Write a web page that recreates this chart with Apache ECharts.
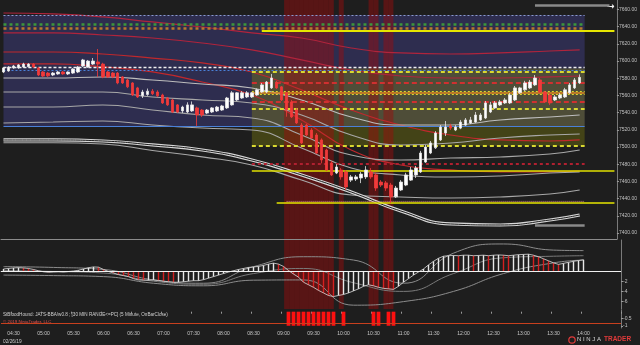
<!DOCTYPE html>
<html>
<head>
<meta charset="utf-8">
<script src="https://cdn.jsdelivr.net/npm/echarts@6.0.0/dist/echarts.min.js"></script>
<style>
html,body{margin:0;padding:0;background:#1e1e1e;overflow:hidden;}
#chart{width:640px;height:345px;}
</style>
</head>
<body>
<div id="chart"></div>
<script>
const FONT = 'Liberation Sans, Arial, sans-serif';

// ---- categories: 5-minute bars starting 04:20 ----
const times = [];
for (let i = 0; i < 124; i++) {
  const m = 260 + 5 * i;
  times.push(String(Math.floor(m / 60)).padStart(2, '0') + ':' + String(m % 60).padStart(2, '0'));
}

// ---- price candles [open, close, low, high] ----
const ohlc = [
[7587.25,7592,7586,7593],[7588.5,7593,7587.5,7594],[7592,7594.25,7591,7595.5],[7592,7595.5,7591,7596.5],
[7593,7596.5,7592,7598],[7593.25,7596.5,7592.5,7597.5],[7596.5,7593,7592,7597.5],[7592,7583.75,7582.5,7593],
[7587.25,7582.5,7581.5,7588.5],[7586,7582.75,7581.5,7587.25],[7583.75,7586,7582.5,7587.25],[7585,7587.25,7584,7588.5],
[7587.25,7585,7584,7588.5],[7585,7587.25,7583.75,7588],[7586,7590.75,7585,7591.75],[7587.25,7593,7586,7594.25],
[7594.25,7601.25,7593,7602.5],[7593,7600,7592,7601.25],[7596.5,7600,7595.5,7603.5],[7599,7596.5,7581.5,7614],
[7596.5,7581.5,7580,7598],[7587.25,7581.5,7580.25,7588.5],[7586,7581.5,7580,7587.25],[7586,7574.5,7573,7587.25],
[7581.5,7574.5,7573.25,7582.5],[7578,7570,7568.5,7579.25],[7574.5,7560.5,7559.25,7575.5],[7568.75,7558.25,7557,7570],
[7559.5,7564,7557,7566.5],[7561,7565,7559.5,7568],[7565,7562,7560.5,7567.5],[7564,7559.5,7558.25,7566],
[7560.5,7551.25,7550,7562],[7557,7549,7547.75,7558.25],[7554.75,7540.75,7539.5,7556],[7549,7540.75,7539.5,7550],
[7542,7546.5,7539.5,7548],[7540.75,7549,7539.5,7552],[7542,7549,7540.75,7553],[7545.5,7537.25,7524.5,7547],
[7543,7537.25,7535,7544.25],[7539.5,7543,7538.25,7544.25],[7540.75,7545.5,7539.5,7546.5],[7542,7546.5,7540.75,7547.75],
[7543,7547.75,7542,7549],[7545.5,7557,7544.25,7558.25],[7549,7563,7548,7565],[7554.75,7563,7553.5,7564],
[7557,7563,7556,7565],[7558.25,7563,7557,7565],[7558.25,7563,7557,7564],[7560.5,7566.5,7559.5,7568],
[7564,7572.25,7563,7574.5],[7564,7575.5,7562.75,7576.75],[7568.75,7580.25,7567.5,7585],[7575.5,7568.75,7567.5,7577],
[7570,7554.75,7553.5,7571],[7563,7543,7535.25,7564],[7552.5,7535,7533.75,7554.75],[7543,7528,7526.75,7545.5],
[7525.5,7504.75,7503.5,7528],[7525.5,7514,7512.75,7527],[7519.75,7510.5,7509.25,7522],[7514,7493,7491.75,7516.25],
[7508.25,7485,7481,7510],[7496.5,7473.25,7472,7498],[7481.5,7467.5,7466.25,7483.75],[7469.75,7476.75,7468.5,7480],
[7473.25,7465.25,7462,7475.5],[7471,7453.5,7450,7473.25],[7461.5,7465.25,7459.25,7467.5],[7462.75,7465.25,7460.5,7467.5],
[7464,7468.5,7458,7471],[7465.25,7473.25,7462.75,7477.75],[7471,7465.25,7463,7475.5],[7467.5,7452.25,7449,7470],
[7459.25,7455.75,7453.5,7461.5],[7458.25,7452.25,7449,7460.5],[7455.75,7442,7434.75,7458.25],[7442,7452.25,7440.75,7454.75],
[7450,7459.25,7448.75,7461.5],[7455.75,7467.5,7454.5,7470],[7461.5,7473.25,7460.5,7476.75],[7467.5,7475.5,7464,7478],
[7471,7493,7469.75,7495.5],[7482.5,7500,7481.5,7502.5],[7493,7504.75,7491.75,7507],[7499,7516.25,7497.75,7518.5],
[7508.25,7523.25,7507,7525.5],[7516.25,7523.25,7512.75,7530.25],[7524.5,7522,7519.75,7527],[7519.75,7523.25,7518.5,7525.5],
[7522,7529,7520.75,7531.5],[7525.5,7531.5,7524.5,7533.75],[7528,7531.5,7526.75,7535],[7529,7537.25,7528,7540.75],
[7531.5,7537.25,7530.25,7539.5],[7533.75,7551.25,7532.5,7553.5],[7540.75,7549,7539.5,7552.5],[7545.5,7551.25,7544.25,7553.5],
[7549,7552.5,7547.75,7554.75],[7551.25,7554.75,7550,7557],[7551.25,7560.5,7550,7562.75],[7554.75,7568.75,7553.5,7571],
[7563,7568.75,7561.75,7570],[7566.5,7574.5,7565.25,7577],[7568.75,7575.5,7567.5,7578],[7572.25,7580.25,7571,7583.75],
[7578,7564,7562.75,7580.25],[7564,7552.5,7551.25,7565.25],[7560.5,7551.25,7548.75,7562.75],[7554.75,7558.25,7553.5,7560.5],
[7557,7560.5,7555.75,7562.75],[7558.25,7566.5,7557,7568.75],[7563,7572.25,7561.75,7574.5],[7568.75,7578,7567.5,7580.25],
[7574.5,7581,7573.25,7584.5]
];

// ---- MACD-style histogram (panel 2) ----
const macdHist = [
0.4,0.5,0.6,0.65,0.6,0.5,0.3,0.05,-0.15,-0.25,-0.2,-0.15,-0.2,-0.1,0.0,0.15,0.4,0.65,0.8,0.75,
0.3,-0.1,-0.4,-0.7,-0.9,-1.1,-1.5,-1.75,-1.8,-1.8,-1.75,-1.85,-2.0,-2.1,-2.2,-2.2,-2.1,-2.0,-1.9,-1.9,
-1.7,-1.4,-1.1,-0.8,-0.5,-0.2,0.05,0.3,0.5,0.7,0.8,0.9,1.1,1.35,1.55,1.35,0.9,0.1,-0.6,-1.2,
-2.2,-2.7,-3.2,-3.8,-4.3,-4.8,-5.0,-4.8,-4.6,-4.3,-3.9,-3.5,-3.0,-2.7,-2.9,-3.2,-3.4,-3.5,-3.6,-3.0,
-2.2,-1.5,-0.8,-0.2,0.4,1.2,1.9,2.5,2.9,3.0,3.05,3.0,3.1,3.1,3.0,3.05,3.1,3.0,3.1,3.15,
3.1,3.0,3.1,3.2,3.25,3.3,3.1,2.8,2.4,2.0,1.6,1.3,1.5,1.7,1.9,2.05,2.2
];

// ---- signal bars (red bands) ----
const signalIdx = [57,58,59,60,61,62,63,64,65,66,68,74,75,77,78];

// ---- band / average curves, sampled at these bars ----
const bandIdx = [0,10,20,30,40,50,60,70,80,90,100,110,116];
const redBand1 = [7655.9,7654.8,7651.3,7645.5,7639.6,7632.7,7626.8,7615.2,7609.4,7608.2,7609.4,7611.7,7612.9];
const redBand2 = [7632.7,7632.7,7630.3,7626.8,7621.0,7612.9,7601.3,7589.6,7582.6,7580.3,7580.3,7581.5,7582.6];
const redBand3 = [7610.5,7610.5,7608.2,7603.5,7597.8,7587.3,7566.4,7543.1,7525.6,7514.0,7508.2,7507.0,7508.2];
const redBand4 = [7596.6,7596.6,7593.1,7587.3,7575.6,7560.5,7531.5,7496.5,7479.1,7473.3,7471.0,7471.0,7472.1];
const whiteBand1 = [7580.3,7580.3,7581.5,7578.0,7573.3,7568.7,7554.7,7534.9,7525.6,7525.6,7531.5,7534.9,7537.3];
const whiteBand2 = [7564.0,7564.0,7564.0,7558.2,7554.7,7551.2,7537.3,7514.0,7502.4,7504.7,7510.5,7514.0,7515.2];
const whiteBand3 = [7546.6,7546.6,7548.9,7543.1,7537.3,7533.8,7514.0,7490.7,7484.9,7487.2,7488.4,7491.9,7496.5];
const whiteBand4 = [7528.0,7529.1,7530.3,7525.6,7522.1,7519.8,7498.9,7475.6,7467.5,7465.1,7466.3,7469.8,7471.0];
const whiteBand5 = [7505.0,7505.0,7503.5,7496.0,7488.5,7479.1,7461.6,7444.2,7441.9,7440.7,7441.9,7445.4,7450.0];
const doubleBand = [7508.2,7508.2,7507.0,7502.4,7496.5,7484.9,7467.5,7447.7,7425.6,7410.5,7409.3,7415.1,7420.9];

const macdUpper = [0.85,0.7,0.3,-1.75,-2.4,0.85,2.8,2.15,-2.4,3.5,5.3,4.1,4.0];
const macdLower = [-0.8,-0.9,-1.1,-2.4,-2.9,-1.8,-1.75,-6.7,-6.0,-4.0,-0.5,1.6,2.15];
const macdMid = [0.1,-0.1,-0.4,-2.0,-2.6,-0.5,0.5,-2.3,-4.0,-0.5,2.6,2.9,3.0];

// ---- axis ticks ----
const priceTicks = [7400,7420,7440,7460,7480,7500,7520,7540,7560,7580,7600,7620,7640,7660];
const macdTicks = [-6,-4,-2];
const sigTicks = [-1,-0.5];

// ---- key levels ----
const globexHigh = 7653.6, globexLow = 7524.1, globexMid = 7588.8;
const rangeHigh = 7587.3, rangeLow = 7501.6, rangeMid = 7544.2;
const redHigh = 7574.8, redLow = 7552.7, redMid = 7563.2;
const priceBoxes = [['7581.00',7590.4],['7575.50',7575.7],['7568.75',7564.4],['7563.75',7552.7]];
const macdBoxes = [['4.00',3.86],['2.25',2.2],['0.75',0.65]];
const rightLabels = [
  ['Globex High',7653.6,'#6f8fe0'],['Range High',7587.6,'#e0e040'],['Globex Mid',7582.3,'#d8d850'],
  ['Range High',7574.8,'#e23a3a'],['Range Mid',7561.3,'#e0e040'],['Mid',7556.7,'#e23a3a'],
  ['Range Low',7552.0,'#e23a3a'],['Range Mid',7544.2,'#e0e040'],['Globex Low',7524.1,'#6f8fe0'],
  ['Range Low',7501.2,'#e0e040']
];

// ---- panel layout ----
const PANELS = {
  price: {top: 0, height: 239},
  macd: {top: 240, height: 69},
  sig: {top: 310, height: 18}
};

const curve = vals => bandIdx.map((k, j) => [times[k], vals[j]]);
const seg = (a, b, v, color, width, type) => [
  {coord: [times[a], v], lineStyle: {color: color, width: width, type: type}},
  {coord: [times[b], v]}
];

const lineSeries = (name, vals, color, width, z, type) => ({
  name, type: 'line', xAxisIndex: 0, yAxisIndex: 0, data: curve(vals), smooth: true,
  symbol: 'none', silent: true, z: z || 3,
  lineStyle: {color, width, type: type || 'solid'}
});

const sigData3 = times.map((t, i) => signalIdx.indexOf(i) >= 0 ? -1 : '-');
const bandData = signalIdx.map(i => [times[i], 7500]);

// shaded column for each signal bar, in the price panel and the MACD panel,
// positioned horizontally by the category axis
const bandRender = (params, api) => {
  const c = api.coord([api.value(0), api.value(1)]);
  const w = api.size([1, 0])[0];
  const fill = 'rgba(160,12,12,0.45)';
  return {type: 'group', children: [
    {type: 'rect', shape: {x: c[0] - w / 2, y: PANELS.price.top, width: w, height: PANELS.price.height}, style: {fill}},
    {type: 'rect', shape: {x: c[0] - w / 2, y: PANELS.macd.top, width: w, height: PANELS.macd.height}, style: {fill}}
  ]};
};

const histColors = macdHist.map((v, i) => (i > 0 && v < macdHist[i - 1]) ? '#d42020' : '#e8e8e8');

const chart = echarts.init(document.getElementById('chart'), null, {renderer: 'canvas'});

const showLbl = (i) => i <= 116 && (i - 2) % 6 === 0;
const xAx = (g) => ({
  type: 'category', gridIndex: g, data: times, boundaryGap: true,
  axisLine: {show: g < 2, lineStyle: {color: '#8c8c8c', width: 1}},
  axisTick: {show: g === 2, length: 2, interval: showLbl, lineStyle: {color: '#9a9a9a'}},
  axisLabel: {show: g === 2, interval: showLbl, color: '#c8c8c8', fontSize: 5, margin: 3, fontFamily: FONT},
  splitLine: {show: false}
});

const option = {
  backgroundColor: '#1e1e1e',
  animation: false,
  textStyle: {fontFamily: FONT},
  grid: [
    {left: 1, right: 19, top: PANELS.price.top, height: PANELS.price.height},
    {left: 1, right: 19, top: PANELS.macd.top, height: PANELS.macd.height},
    {left: 1, right: 19, top: PANELS.sig.top, height: PANELS.sig.height}
  ],
  xAxis: [xAx(0), xAx(1), xAx(2)],
  yAxis: [
    {type: 'value', gridIndex: 0, position: 'right', min: 7393, max: 7671,
     axisLine: {show: true, lineStyle: {color: '#7a7a7a'}},
     axisTick: {show: true, length: 2, customValues: priceTicks, lineStyle: {color: '#9a9a9a'}},
     axisLabel: {customValues: priceTicks, formatter: v => Number(v).toFixed(2), color: '#c0c0c0', fontSize: 5, margin: 2},
     splitLine: {show: false}},
    {type: 'value', gridIndex: 1, position: 'right', min: -7.45, max: 6.08,
     axisLine: {show: true, lineStyle: {color: '#7a7a7a'}},
     axisTick: {show: true, length: 2, customValues: macdTicks, lineStyle: {color: '#9a9a9a'}},
     axisLabel: {customValues: macdTicks, formatter: v => String(v), color: '#c0c0c0', fontSize: 5, margin: 2},
     splitLine: {show: false}},
    {type: 'value', gridIndex: 2, position: 'right', min: -1.16, max: 0.12,
     axisLine: {show: true, lineStyle: {color: '#7a7a7a'}},
     axisTick: {show: true, length: 2, customValues: sigTicks, lineStyle: {color: '#9a9a9a'}},
     axisLabel: {customValues: sigTicks, formatter: v => String(v), color: '#c0c0c0', fontSize: 5, margin: 2},
     splitLine: {show: false}}
  ],
  series: [
    // background boxes
    {name: 'boxes', type: 'line', xAxisIndex: 0, yAxisIndex: 0, data: [], silent: true, z: 1,
     markArea: {silent: true, data: [
       [{coord: [times[0], globexHigh], itemStyle: {color: '#2e2d4f'}}, {coord: [times[117], globexLow]}],
       [{coord: [times[50], 7591.3], itemStyle: {color: 'rgba(140,140,12,0.34)'}}, {coord: [times[117], rangeLow]}]
     ]}},
    // red signal bands (price + MACD panels)
    {name: 'bands', type: 'custom', xAxisIndex: 0, yAxisIndex: 0, data: bandData, encode: {x: 0, y: 1},
     renderItem: bandRender, silent: true, z: 2, clip: false},
    // curves
    lineSeries('r1', redBand1, '#b0243c', 1.2),
    lineSeries('r2', redBand2, '#b0243c', 1.2),
    lineSeries('r3', redBand3, '#c0282c', 1.2),
    lineSeries('r4', redBand4, '#c0282c', 1.2),
    lineSeries('w1', whiteBand1, '#bdbdbd', 1.1),
    lineSeries('w2', whiteBand2, '#a8a8a8', 1.1),
    lineSeries('w3', whiteBand3, '#a8a8a8', 1.1),
    lineSeries('w4', whiteBand4, '#a8a8a8', 1.1),
    lineSeries('w5', whiteBand5, '#a8a8a8', 1.1),
    lineSeries('d1', doubleBand, '#d8d8d8', 3.2),
    lineSeries('d1in', doubleBand, '#1e1e1e', 1),
    // level lines
    {name: 'levels', type: 'line', xAxisIndex: 0, yAxisIndex: 0, data: [], silent: true, z: 4,
     markLine: {silent: true, symbol: ['none', 'none'], label: {show: false}, data: [
       seg(0, 117, globexHigh, '#8c9cd0', 1, [2, 2]),
       seg(0, 117, 7643.1, '#3c963c', 2.5, [3, 3]),
       seg(0, 117, 7638.5, '#b8782c', 2.5, [3, 3]),
       seg(52, 123, 7635.8, '#e6e600', 2, 'solid'),
       seg(0, 117, 7592.5, '#f0f0f0', 1.4, [3, 2]),
       seg(0, 117, globexMid, '#4a80d8', 1, [2, 2]),
       seg(50, 117, rangeHigh, '#d8d830', 2, [4, 3]),
       seg(50, 117, redHigh, '#d03030', 2, [5, 3]),
       seg(50, 117, 7564.8, '#d8d830', 1, [2, 2]),
       seg(50, 117, redMid, '#e08a20', 1.6, 'solid'),
       seg(50, 117, 7561.1, '#d8d830', 1, [2, 2]),
       seg(50, 117, redLow, '#d03030', 2, [5, 3]),
       seg(50, 117, rangeMid, '#d8d830', 2, [4, 3]),
       seg(0, 117, globexLow, '#4a80d8', 1.2, 'solid'),
       seg(50, 117, rangeLow, '#d8d830', 2, [4, 3]),
       seg(50, 117, 7480.6, '#b02030', 2, [3, 3]),
       seg(50, 123, 7472.9, '#e0e000', 1.5, 'solid'),
       seg(57, 117, 7437.2, '#c08080', 1.2, [1, 1]),
       seg(55, 123, 7435.7, '#e6e600', 1.6, 'solid'),
       seg(107, 122, 7665.4, '#8a8a8a', 2.5, 'solid'),
       seg(107, 117, 7409.3, '#8a8a8a', 2.5, 'solid')
     ]}},
    // annotation labels
    {name: 'labels', type: 'line', xAxisIndex: 0, yAxisIndex: 0, data: [], silent: true, z: 6,
     markLine: {silent: true, symbol: ['none', 'none'], lineStyle: {opacity: 0},
       data: rightLabels.map(l => [
         {coord: [times[0], l[1]], label: {show: true, position: 'end', formatter: l[0], color: l[2], fontSize: 4, distance: 4}},
         {coord: [times[117], l[1]]}
       ]).concat([
         [{coord: [times[50], 7435.7], label: {show: true, position: 'insideStartBottom', formatter: '1. 501K / 201.25', color: '#e8e8e8', fontSize: 4.5, distance: 1}},
          {coord: [times[100], 7435.7]}],
         [{coord: [times[107], 7500.6], label: {show: true, position: 'insideStartTop', formatter: 'S1', color: '#aaaaaa', fontSize: 4.5, distance: 1}},
          {coord: [times[117], 7500.6]}],
         [{coord: [times[107], 7409.3], label: {show: true, position: 'insideStartBottom', formatter: 'S2', color: '#aaaaaa', fontSize: 4.5, distance: 1}},
          {coord: [times[117], 7409.3]}],
         [{coord: [times[107], 7665.4], label: {show: true, position: 'insideStartBottom', formatter: 'R1', color: '#aaaaaa', fontSize: 4.5, distance: 1}},
          {coord: [times[117], 7665.4]}]
       ])
     }},
    // price boxes on the axis
    {name: 'pboxes', type: 'line', xAxisIndex: 0, yAxisIndex: 0, data: [], silent: true, z: 7,
     markLine: {silent: true, symbol: ['none', 'none'], lineStyle: {opacity: 0},
       data: priceBoxes.map(b => ({yAxis: b[1], label: {show: true, position: 'end', formatter: b[0], distance: 0,
         color: '#1e1e1e', fontSize: 5, backgroundColor: '#b4b4b4', padding: [1, 1.5, 0.5, 1.5], borderRadius: 2}}))}},
    // candles
    {name: 'price', type: 'candlestick', xAxisIndex: 0, yAxisIndex: 0, data: ohlc, barWidth: 3, z: 5,
     itemStyle: {color: '#ffffff', color0: '#f03a3a', borderColor: '#e6e6e6', borderColor0: '#f03a3a', borderWidth: 0.8}},
    // MACD panel
    {name: 'hist', type: 'bar', xAxisIndex: 1, yAxisIndex: 1, barWidth: 1.4, z: 4,
     data: macdHist.map((v, i) => ({value: v, itemStyle: {color: histColors[i]}})),
     markLine: {silent: true, symbol: ['none', 'none'], label: {show: false},
       data: [{yAxis: 0, lineStyle: {color: '#f0f0f0', width: 1.2, type: 'solid'}}]}},
    {name: 'histLine', type: 'line', xAxisIndex: 1, yAxisIndex: 1, data: macdHist, symbol: 'none', z: 4,
     lineStyle: {color: '#dcdcdc', width: 0.8}, silent: true},
    {name: 'mU', type: 'line', xAxisIndex: 1, yAxisIndex: 1, data: macdUpper.map((v, j) => [times[bandIdx[j]], v]),
     smooth: true, symbol: 'none', lineStyle: {color: '#8c8c8c', width: 1}, silent: true, z: 3},
    {name: 'mL', type: 'line', xAxisIndex: 1, yAxisIndex: 1, data: macdLower.map((v, j) => [times[bandIdx[j]], v]),
     smooth: true, symbol: 'none', lineStyle: {color: '#8c8c8c', width: 1}, silent: true, z: 3},
    {name: 'mM', type: 'line', xAxisIndex: 1, yAxisIndex: 1, data: macdMid.map((v, j) => [times[bandIdx[j]], v]),
     smooth: true, symbol: 'none', lineStyle: {color: '#7a7a7a', width: 1}, silent: true, z: 3},
    {name: 'mboxes', type: 'line', xAxisIndex: 1, yAxisIndex: 1, data: [], silent: true, z: 7,
     markLine: {silent: true, symbol: ['none', 'none'], lineStyle: {opacity: 0},
       data: macdBoxes.map(b => ({yAxis: b[1], label: {show: true, position: 'end', formatter: b[0], distance: 0,
         color: '#1e1e1e', fontSize: 5, backgroundColor: '#b4b4b4', padding: [1, 3, 0.5, 3], borderRadius: 2}}))}},
    // signal panel
    {name: 'sig', type: 'bar', xAxisIndex: 2, yAxisIndex: 2, data: sigData3, barCategoryGap: '25%',
     itemStyle: {color: '#ff1010'}, silent: true, z: 3,
     markLine: {silent: true, symbol: ['none', 'none'],
       data: [
         {yAxis: -0.79, lineStyle: {color: '#c8401e', width: 1, type: 'solid'}, label: {show: false}},
         {yAxis: 0, lineStyle: {opacity: 0}, label: {show: true, position: 'end', formatter: '0', distance: 0,
           color: '#1e1e1e', fontSize: 5, backgroundColor: '#b4b4b4', padding: [0.5, 6, 0, 2], borderRadius: 2}}
       ]}}
  ],
  graphic: [
    {type: 'text', left: 3, top: 312, silent: true,
     style: {text: 'StBloodHound: JATS-BBA/w0.8 ; [30 MIN RANGE<=PC] (5 Minute, OnBarClose)', fill: '#d0d0d0', font: '4.6px ' + FONT}},
    {type: 'text', left: 3, top: 320, silent: true,
     style: {text: '© 2019 NinjaTrader, LLC', fill: '#e05050', font: '4.4px ' + FONT}},
    {type: 'text', left: 3, top: 339, silent: true,
     style: {text: '02/26/19', fill: '#cccccc', font: '4.8px ' + FONT}},
    {type: 'text', left: 607, top: 2, silent: true,
     style: {text: '→', fill: '#f0f0f0', font: 'bold 9px DejaVu Sans'}},
    {type: 'circle', shape: {cx: 572, cy: 340, r: 3.2}, silent: true,
     style: {fill: '#1e1e1e', stroke: '#e03a3a', lineWidth: 1.2}},
    {type: 'text', left: 577, top: 336, silent: true,
     style: {text: 'N I N J A', fill: '#d6d6d6', font: '6px ' + FONT}},
    {type: 'text', left: 604, top: 336, silent: true,
     style: {text: 'TRADER', fill: '#e03a3a', font: 'bold 6.5px ' + FONT}}
  ]
};
chart.setOption(option);
</script>
</body>
</html>
